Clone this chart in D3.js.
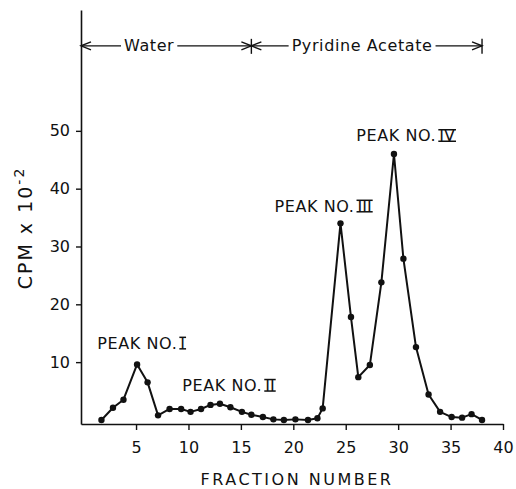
<!DOCTYPE html>
<html>
<head>
<meta charset="utf-8">
<script src="https://cdn.jsdelivr.net/npm/d3@7"></script>
<style>
  body { margin: 0; background: #fff; }
  text { font-family: "DejaVu Sans", sans-serif; fill: #111; }
</style>
</head>
<body>
<script>
// fraction numbers and CPM x 10^-2
const fraction = [1.7, 2.8, 3.8, 5.1, 6.1, 7.1, 8.2, 9.3, 10.2, 11.2, 12.1, 13.0, 14.0, 15.1, 16.0, 17.1, 18.1, 19.1,
  20.2, 21.4, 22.3, 22.8, 24.5, 25.5, 26.2, 27.3, 28.4, 29.6, 30.5, 31.7, 32.9, 34.0, 35.1, 36.1, 37.0, 38.0];
const cpm = [0, 2.1, 3.5, 9.6, 6.5, 0.8, 1.9, 1.9, 1.4, 1.9, 2.6, 2.8, 2.2, 1.4, 0.9, 0.5, 0.1, 0, 0.1, 0,
  0.3, 2.0, 34.0, 17.8, 7.4, 9.5, 23.8, 46.0, 27.9, 12.6, 4.4, 1.4, 0.5, 0.4, 1.0, 0];

const xTicks = [5, 10, 15, 20, 25, 30, 35, 40];
const yTicks = [10, 20, 30, 40, 50];

// eluting solvents
const solventName = ["Water", "Pyridine Acetate"];
const solventFrom = [-0.25, 16];
const solventTo = [16, 38];
const solventLevel = 64.7;

// peak labels
const peakText = ["PEAK NO.", "PEAK NO.", "PEAK NO.", "PEAK NO."];
const peakNumeral = ["I", "II", "III", "IV"];
const peakLabelFraction = [1.3, 9.4, 18.2, 26.0];
const peakLabelCpm = [12.3, 5.0, 36.0, 48.2];

const width = 516, height = 489;

const svg = d3.select("body").append("svg")
  .attr("width", width)
  .attr("height", height);

const x = d3.scaleLinear().domain([-0.25, 40]).range([81, 503]);
const y = d3.scaleLinear().domain([-0.7, 70.9]).range([424, 10]);

// axes
const xAxis = svg.append("g")
  .attr("transform", "translate(0," + y(-0.7) + ")")
  .call(d3.axisBottom(x).tickValues(xTicks).tickSize(6).tickSizeOuter(0).tickPadding(12));
const yAxis = svg.append("g")
  .attr("transform", "translate(" + x(-0.25) + ",0)")
  .call(d3.axisLeft(y).tickValues(yTicks).tickSize(5).tickSizeOuter(0).tickPadding(6));

[xAxis, yAxis].forEach(function(g) {
  g.select(".domain").attr("stroke", "#111").attr("stroke-width", 1.6);
  g.selectAll(".tick line").attr("stroke", "#111").attr("stroke-width", 1.4);
  g.selectAll(".tick text").attr("font-size", 16).attr("font-family", "DejaVu Sans").attr("fill", "#111");
});

// axis titles
svg.append("text")
  .attr("x", 297).attr("y", 485)
  .attr("text-anchor", "middle")
  .attr("font-size", 16)
  .attr("letter-spacing", 2.5)
  .text("FRACTION NUMBER");

const yTitle = svg.append("text")
  .attr("transform", "translate(32,228) rotate(-90)")
  .attr("text-anchor", "middle")
  .attr("font-size", 19)
  .attr("letter-spacing", 2);
yTitle.append("tspan").text("CPM x 10");
yTitle.append("tspan").attr("font-size", 14).attr("dy", "-0.6em").text("-2");

// the curve
const pts = fraction.map(function(f, i) { return [f, cpm[i]]; });
const line = d3.line()
  .x(function(d) { return x(d[0]); })
  .y(function(d) { return y(d[1]); });

svg.append("path")
  .datum(pts)
  .attr("d", line)
  .attr("fill", "none")
  .attr("stroke", "#111")
  .attr("stroke-width", 2)
  .attr("stroke-linejoin", "round");

svg.selectAll("circle.pt")
  .data(pts)
  .enter()
  .append("circle")
  .attr("class", "pt")
  .attr("cx", function(d) { return x(d[0]); })
  .attr("cy", function(d) { return y(d[1]); })
  .attr("r", 3.2)
  .attr("fill", "#111");

// solvent arrows
const ay = y(solventLevel);
solventName.forEach(function(name, i) {
  const x0 = x(solventFrom[i]), x1 = x(solventTo[i]);
  const cx = x0 + (x1 - x0) * (i === 0 ? 0.4 : 0.48);
  const t = svg.append("text")
    .attr("x", cx).attr("y", ay + 5)
    .attr("text-anchor", "middle")
    .attr("font-size", 16)
    .attr("letter-spacing", 0.6)
    .text(name);
  const w = t.node().getComputedTextLength();
  const g = svg.append("g").attr("stroke", "#111").attr("stroke-width", 1.4).attr("fill", "none");
  g.append("line").attr("x1", x0).attr("x2", cx - w / 2 - 3).attr("y1", ay).attr("y2", ay);
  g.append("line").attr("x1", cx + w / 2 + 3).attr("x2", x1).attr("y1", ay).attr("y2", ay);
  g.append("path").attr("d", "M" + (x0 + 10) + "," + (ay - 4) + "L" + x0 + "," + ay + "L" + (x0 + 10) + "," + (ay + 4));
  g.append("path").attr("d", "M" + (x1 - 10) + "," + (ay - 4) + "L" + x1 + "," + ay + "L" + (x1 - 10) + "," + (ay + 4));
  g.append("line").attr("x1", x1).attr("x2", x1).attr("y1", ay - 7).attr("y2", ay + 8);
});

// peak labels, numerals with bars above and below
peakText.forEach(function(txt, i) {
  const lx = x(peakLabelFraction[i]), ly = y(peakLabelCpm[i]);
  const t = svg.append("text")
    .attr("x", lx).attr("y", ly)
    .attr("font-size", 16)
    .attr("letter-spacing", 0.6)
    .text(txt);
  const w = t.node().getComputedTextLength();
  const n = svg.append("text")
    .attr("x", lx + w + 3).attr("y", ly)
    .attr("font-size", 16)
    .attr("letter-spacing", 0)
    .text(peakNumeral[i]);
  const nw = n.node().getComputedTextLength();
  const g = svg.append("g").attr("stroke", "#111").attr("stroke-width", 1.5);
  g.append("line").attr("x1", lx + w + 2).attr("x2", lx + w + nw + 4).attr("y1", ly - 11.5).attr("y2", ly - 11.5);
  g.append("line").attr("x1", lx + w + 2).attr("x2", lx + w + nw + 4).attr("y1", ly).attr("y2", ly);
});
</script>
</body>
</html>
